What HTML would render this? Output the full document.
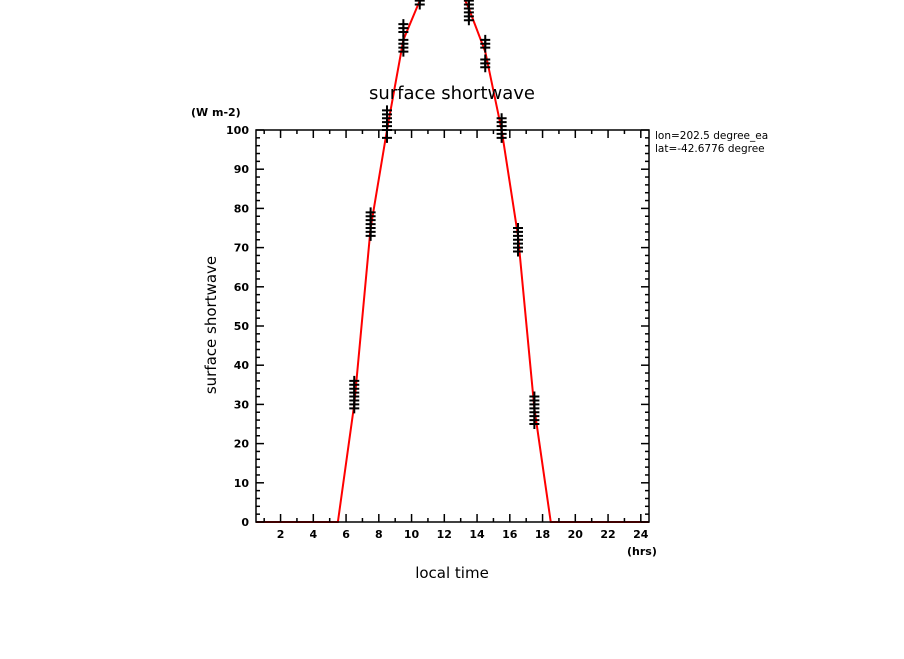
<!DOCTYPE html>
<html><head><meta charset="utf-8"><style>
body{margin:0;background:#fff}
svg text{font-family:"DejaVu Sans","Liberation Sans",sans-serif;fill:#000}
</style></head><body>
<svg width="904" height="654" viewBox="0 0 904 654">
<g id="marks"></g>
<g id="axes"></g>
<text x="452" y="99" font-size="18" text-anchor="middle">surface shortwave</text>
<text x="191" y="116" font-size="11" font-weight="bold">(W m-2)</text>
<text x="655" y="139" font-size="10.5">lon=202.5 degree_ea</text>
<text x="655" y="152" font-size="10.5">lat=-42.6776 degree</text>
<rect x="780" y="128" width="60" height="30" fill="#fff"/>
<text x="452" y="578" font-size="15" text-anchor="middle">local time</text>
<text x="627" y="555" font-size="11" font-weight="bold">(hrs)</text>
<text transform="translate(216,325) rotate(-90)" font-size="15" text-anchor="middle">surface shortwave</text>
</svg>
<script>
const lineHours=[0.5,1.5,2.5,3.5,4.5,5.5,6.5,7.5,8.5,9.5,10.5,11.5,12.5,13.5,14.5,15.5,16.5,17.5,18.5,19.5,20.5,21.5,22.5,23.5,24.5];
const lineValues=[0,0,0,0,0,0,30,75,100,123,133,140,140,131,120,100,73,29,0,0,0,0,0,0,0];
const markerHours=[6.5,7.5,8.5,9.5,10.5,13.5,14.5,15.5,16.5,17.5];
const markerValues=[
[29,30,31,32,33,34,35,36],
[73,74,75,76,77,78,79],
[98,100,101,102,103,104,105],
[120,121,122,123,125,126,127],
[132,133,134],
[128,129,130,131,132,133],
[116,117,118,121,122,123],
[98,99,100,101,102,103],
[69,70,71,72,73,74,75],
[25,26,27,28,29,30,31,32]];
const xTicks=[2,4,6,8,10,12,14,16,18,20,22,24];
const yTicks=[0,10,20,30,40,50,60,70,80,90,100];
const X0=256,X1=649,Y0=522,Y1=130,XMIN=0.5,XMAX=24.5,YMIN=0,YMAX=100;
const sx=h=>X0+(h-XMIN)/(XMAX-XMIN)*(X1-X0);
const sy=v=>Y0-(v-YMIN)/(YMAX-YMIN)*(Y0-Y1);
const NS="http://www.w3.org/2000/svg";
function mk(t,a,p){const e=document.createElementNS(NS,t);for(const k in a)e.setAttribute(k,a[k]);p.appendChild(e);return e;}
const ax=document.getElementById('axes'),mg=document.getElementById('marks');
const fr=mk('rect',{x:X0,y:Y1,width:X1-X0,height:Y0-Y1,fill:'none',stroke:'#000','stroke-width':1.5},ax);


for(let h=1;h<=24;h++){const x=sx(h),L=h%2==0?8:4;
mk('line',{x1:x,y1:Y0,x2:x,y2:Y0-L,stroke:'#000','stroke-width':1.5},ax);
mk('line',{x1:x,y1:Y1,x2:x,y2:Y1+L,stroke:'#000','stroke-width':1.5},ax);}
xTicks.forEach(t=>{const e=mk('text',{x:sx(t),y:538,'font-size':11,'font-weight':'bold','text-anchor':'middle'},ax);e.textContent=t;

});
for(let v=0;v<=100;v+=2){const y=sy(v),L=v%10==0?8:4;
mk('line',{x1:X0,y1:y,x2:X0+L,y2:y,stroke:'#000','stroke-width':1.5},ax);
mk('line',{x1:X1,y1:y,x2:X1-L,y2:y,stroke:'#000','stroke-width':1.5},ax);}
yTicks.forEach(t=>{const e=mk('text',{x:249,y:sy(t)+4,'font-size':11,'font-weight':'bold','text-anchor':'end'},ax);e.textContent=t;

});
const pl=mk('polyline',{points:lineHours.map((h,i)=>sx(h)+','+sy(lineValues[i])).join(' '),fill:'none',stroke:'#f00','stroke-width':2},mg);


markerHours.forEach((h,i)=>{markerValues[i].forEach(v=>{const x=sx(h),y=sy(v);
const p=mk('path',{d:`M${x-5},${y}H${x+5}M${x},${y-5}V${y+5}`,stroke:'#000','stroke-width':2},mg);

});});
</script>
</body></html>
